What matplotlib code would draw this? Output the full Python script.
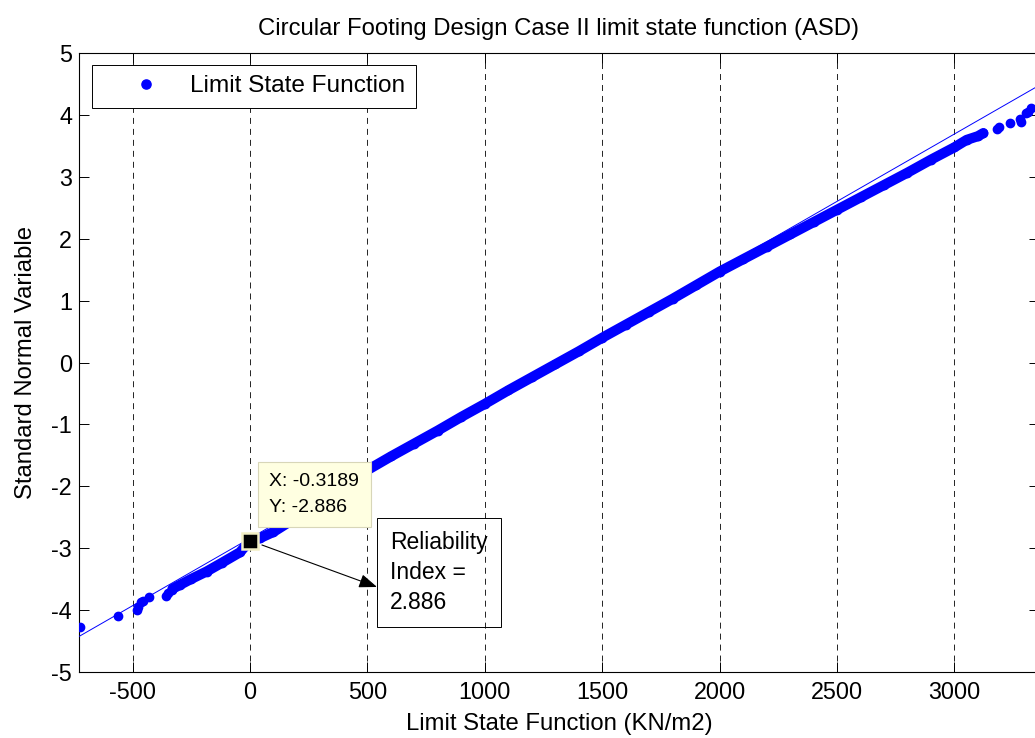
import matplotlib
matplotlib.use("Agg")
import matplotlib.pyplot as plt

plt.rcParams["font.family"] = ["Liberation Sans", "DejaVu Sans"]
plt.rcParams["axes.unicode_minus"] = False
plt.rcParams["lines.scale_dashes"] = False

# ---- data -------------------------------------------------------------
# isolated points in the lower tail
tail_low_x = [-724, -561, -483, -476, -466, -454, -429, -358, -348, -334]
tail_low_y = [-4.28, -4.10, -4.01, -3.95, -3.88, -3.85, -3.80, -3.77, -3.72, -3.68]

# densely packed points along the body of the distribution
band_x = [-330, -300, -250, -185, -120, -43, -0.3189, 43, 100, 200, 300, 400,
          500, 600, 700, 800, 900, 1000, 1100, 1200, 1300, 1400, 1500, 1600,
          1700, 1800, 1900, 2000, 2100, 2200, 2300, 2400, 2500, 2600, 2700,
          2800, 2900, 3000, 3052, 3100, 3123]
band_y = [-3.66, -3.60, -3.50, -3.38, -3.24, -3.07, -2.886, -2.84, -2.74, -2.50,
          -2.25, -1.99, -1.74, -1.52, -1.31, -1.10, -0.88, -0.67, -0.45, -0.24,
          -0.03, 0.18, 0.40, 0.61, 0.82, 1.03, 1.25, 1.47, 1.67, 1.87, 2.07,
          2.27, 2.47, 2.67, 2.87, 3.07, 3.28, 3.48, 3.60, 3.66, 3.71]

# isolated points in the upper tail
tail_high_x = [3180, 3191, 3237, 3277, 3283, 3306, 3315, 3328]
tail_high_y = [3.78, 3.81, 3.88, 3.94, 3.89, 4.04, 4.05, 4.11]

# reference (fitted) normal line
ref_x = [-728, 3360]
ref_y = [-4.43, 4.48]

# selected point: reliability index
tip_x = -0.3189
tip_y = -2.886

x_ticks = [-500, 0, 500, 1000, 1500, 2000, 2500, 3000]
y_ticks = [-5, -4, -3, -2, -1, 0, 1, 2, 3, 4, 5]

# ---- figure -----------------------------------------------------------
fig = plt.figure(figsize=(10.35, 7.38), dpi=100)
ax = fig.add_axes([79 / 1035, (738 - 671.7) / 738, 960 / 1035, 618.4 / 738])

blue = (0, 0, 1)

ax.plot(band_x, band_y, "-", color=blue, lw=7.3,
        solid_capstyle="round", solid_joinstyle="round", zorder=2)
pts, = ax.plot(band_x, band_y, "o", color=blue, ms=6, mec=blue,
               label="Limit State Function", zorder=3)
ax.plot(tail_low_x, tail_low_y, "o", color=blue, ms=6, mec=blue, zorder=3)
ax.plot(tail_high_x, tail_high_y, "o", color=blue, ms=6, mec=blue, zorder=3)
ax.plot(ref_x, ref_y, "-", color=blue, lw=0.7, zorder=4)

ax.set_xlim(-728, 3360)
ax.set_ylim(-5, 5)
ax.set_xticks(x_ticks)
ax.set_yticks(y_ticks)

ax.set_axisbelow(True)
ax.xaxis.grid(True, color="k", lw=0.6, linestyle=(0, (4.3, 3.6)))
ax.yaxis.grid(False)

ax.tick_params(direction="in", length=7, width=0.7, labelsize=16.8,
               top=True, right=True)
ax.tick_params(axis="x", pad=7)
ax.tick_params(axis="y", pad=5)
for sp in ax.spines.values():
    sp.set_linewidth(0.8)

ax.set_title("Circular Footing Design Case II limit state function (ASD)",
             fontsize=17.2, pad=13)
ax.set_xlabel("Limit State Function (KN/m2)", fontsize=17.2, labelpad=6)
ax.set_ylabel("Standard Normal Variable", fontsize=17.2, labelpad=10)

leg = ax.legend(handles=[pts], loc="upper left",
                bbox_to_anchor=(0.0135, 0.981), borderaxespad=0,
                fontsize=17.6, frameon=True, fancybox=False, framealpha=1,
                edgecolor="k", borderpad=0.42, handlelength=3.6,
                handletextpad=0.0, numpoints=1, markerscale=1.1)
leg.get_frame().set_linewidth(0.7)

# data tip marker and label
ax.plot([tip_x], [tip_y], "s", ms=11.9, mfc="k", mec="#F2EFC4", mew=1.8,
        zorder=6)
ax.text(81.8, -1.79, f"X: {tip_x}\nY: {tip_y}", fontsize=14,
        ha="left", va="top", linespacing=1.65, zorder=7,
        bbox=dict(boxstyle="square,pad=0.6", fc="#FFFFE1", ec="#D8D6B8",
                  lw=0.8))

# reliability index callout
ax.annotate("", xy=(541, -3.63), xytext=(51, -2.951),
            arrowprops=dict(arrowstyle="-|>,head_length=1.1,head_width=0.42",
                            color="k", lw=0.8, shrinkA=0, shrinkB=0),
            zorder=5)
ax.text(597.5, -2.73, f"Reliability\nIndex =\n{-tip_y}", fontsize=16.5,
        ha="left", va="top", linespacing=1.38, zorder=5,
        bbox=dict(boxstyle="square,pad=0.58", fc="none", ec="k", lw=0.7))

fig.savefig("out.png", dpi=100)
